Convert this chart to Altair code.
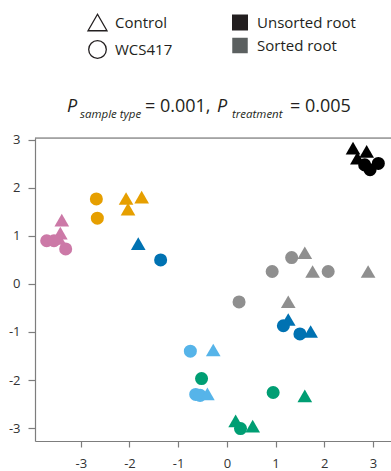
import altair as alt
import pandas as pd

# ---- data ----
groups = (
    ["Unsorted root"] * 6
    + ["Sorted root"] * 8
    + ["Group P"] * 6
    + ["Group O"] * 5
    + ["Group B"] * 6
    + ["Group L"] * 5
    + ["Group G"] * 6
)
treatments = (
    ["Control"] * 3 + ["WCS417"] * 3
    + ["WCS417"] * 4 + ["Control"] * 4
    + ["Control"] * 3 + ["WCS417"] * 3
    + ["WCS417"] * 2 + ["Control"] * 3
    + ["Control"] * 3 + ["WCS417"] * 3
    + ["WCS417"] * 3 + ["Control"] * 2
    + ["WCS417"] * 3 + ["Control"] * 3
)
pc1 = [
    2.59, 2.87, 2.68, 2.83, 2.94, 3.11,
    1.33, 0.93, 2.08, 0.25, 1.60, 1.76, 2.90, 1.26,
    -3.39, -3.42, -3.45, -3.70, -3.55, -3.31,
    -2.68, -2.66, -2.07, -2.03, -1.75,
    -1.82, 1.26, 1.72, -1.36, 1.16, 1.50,
    -0.75, -0.64, -0.55, -0.28, -0.40,
    -0.52, 0.95, 0.28, 1.60, 0.18, 0.53,
]
pc2 = [
    2.83, 2.76, 2.62, 2.48, 2.38, 2.51,
    0.55, 0.26, 0.26, -0.375, 0.65, 0.26, 0.26, -0.37,
    1.33, 1.06, 0.95, 0.90, 0.90, 0.73,
    1.77, 1.37, 1.78, 1.56, 1.81,
    0.84, -0.74, -0.99, 0.50, -0.87, -1.04,
    -1.40, -2.30, -2.32, -1.375, -2.29,
    -1.97, -2.26, -3.01, -2.33, -2.85, -2.96,
]

group_domain = ["Unsorted root", "Sorted root", "Group P", "Group O", "Group B", "Group L", "Group G"]
group_colors = ["#000000", "#8f8f8f", "#cc79a7", "#e69f00", "#0072b2", "#56b4e9", "#009e73"]

treatment_labels = ["Control", "WCS417"]
treatment_shapes = ["triangle-up", "circle"]
sample_labels = ["Unsorted root", "Sorted root"]
sample_legend_colors = ["#231f20", "#5b6060"]

axis_ticks = [-3, -2, -1, 0, 1, 2, 3]
x_domain = [-3.94, 3.37]
y_domain = [-3.27, 3.04]

FONT = "Open Sans"
TXT = "#231f20"
W, H = 356, 303

df = pd.DataFrame({"group": groups, "treatment": treatments, "pc1": pc1, "pc2": pc2})

axis_common = dict(
    title=None, grid=False, values=axis_ticks, domainColor="#7d7d7d", tickColor="#7d7d7d",
    labelFont=FONT, labelFontSize=13, labelColor="#333333", labelExpr="'' + datum.value",
    domainWidth=1.2, tickWidth=1.2,
)

points = alt.Chart(df).mark_point(filled=True, opacity=1, strokeWidth=0).encode(
    x=alt.X("pc1:Q", scale=alt.Scale(domain=x_domain, nice=False, zero=False),
            axis=alt.Axis(tickSize=6, labelPadding=10, **axis_common)),
    y=alt.Y("pc2:Q", scale=alt.Scale(domain=y_domain, nice=False, zero=False),
            axis=alt.Axis(tickSize=7, labelPadding=8, **axis_common)),
    color=alt.Color("group:N", scale=alt.Scale(domain=group_domain, range=group_colors), legend=None),
    shape=alt.Shape("treatment:N", scale=alt.Scale(domain=treatment_labels, range=treatment_shapes), legend=None),
    size=alt.Size("treatment:O", scale=alt.Scale(domain=treatment_labels, range=[215, 170]), legend=None),
)

top_line = alt.Chart().mark_rule(color="#6a6a6a", strokeWidth=1.2).encode(
    x=alt.value(0), x2=alt.value(W), y=alt.value(0)
)

layers = [points, top_line]

# ---- legend (manual) ----
def sym(shape, size, xx, yy, filled, color):
    if filled:
        m = alt.Chart().mark_point(shape=shape, size=size, filled=True, color=color, opacity=1, strokeWidth=0)
    else:
        m = alt.Chart().mark_point(shape=shape, size=size, filled=False, color=TXT, strokeWidth=1.3, opacity=1)
    return m.encode(x=alt.value(xx), y=alt.value(yy))

def txt(s, xx, yy, size, style="normal", baseline="middle"):
    return alt.Chart().mark_text(text=s, align="left", baseline=baseline, font=FONT, fontSize=size,
                                 fontStyle=style, color=TXT).encode(x=alt.value(xx), y=alt.value(yy))

layers += [
    sym(treatment_shapes[0], 361, 62.5, -115.5, False, None),
    sym(treatment_shapes[1], 310, 62.5, -88.5, False, None),
    txt(treatment_labels[0], 80, -115, 15),
    txt(treatment_labels[1], 80, -88.5, 15),
    sym("square", 256, 205, -115.5, True, sample_legend_colors[0]),
    sym("square", 240, 205, -92.5, True, sample_legend_colors[1]),
    txt(sample_labels[0], 222, -115, 15),
    txt(sample_labels[1], 222, -92.5, 15),
]

# ---- title with subscripts ----
layers += [
    txt("P", 32, -26.5, 18, "italic", "alphabetic"),
    txt("sample type", 45, -20, 11.5, "italic", "alphabetic"),
    txt("= 0.001,", 110, -26.5, 18, "normal", "alphabetic"),
    txt("P", 182, -26.5, 18, "italic", "alphabetic"),
    txt("treatment", 197, -20, 11.5, "italic", "alphabetic"),
    txt("= 0.005", 255, -26.5, 18, "normal", "alphabetic"),
]

chart = alt.layer(*layers).properties(
    width=W, height=H,
    autosize=alt.AutoSizeParams(type="none"),
    padding={"left": 35, "top": 138, "right": 0, "bottom": 30},
).configure_view(stroke=None).configure(background="white")

chart.save("out.html", embed_options={"renderer": "svg", "actions": False})
